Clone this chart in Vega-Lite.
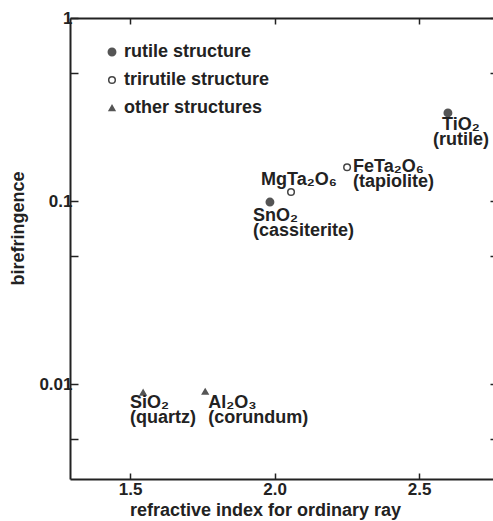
{
  "$schema": "https://vega.github.io/schema/vega-lite/v6.json",
  "width": 423,
  "height": 461,
  "autosize": "none",
  "padding": {"left": 70, "top": 18, "right": 0, "bottom": 42},
  "background": "white",
  "config": {
    "view": {"stroke": null},
    "font": "Liberation Sans",
    "text": {"font": "Liberation Sans", "fontWeight": "bold", "fontSize": 18, "fill": "#222", "lineBreak": "\n", "lineHeight": 15},
    "axis": {
      "grid": false,
      "domainColor": "#222",
      "domainWidth": 2,
      "tickColor": "#222",
      "tickWidth": 1.5,
      "labelFont": "Liberation Sans",
      "labelFontWeight": "bold",
      "labelFontSize": 17,
      "labelColor": "#222",
      "titleFont": "Liberation Sans",
      "titleFontWeight": "bold",
      "titleFontSize": 18,
      "titleColor": "#222"
    },
    "legend": {
      "labelFont": "Liberation Sans",
      "labelFontWeight": "bold",
      "labelFontSize": 18,
      "labelColor": "#222"
    }
  },
  "data": {
    "values": [
      {"id": "TiO2", "label": "TiO₂\n(rutile)", "n": 2.60, "biref": 0.303, "structure": "rutile structure"},
      {"id": "FeTa2O6", "label": "FeTa₂O₆\n(tapiolite)", "n": 2.251, "biref": 0.153, "structure": "trirutile structure"},
      {"id": "MgTa2O6", "label": "MgTa₂O₆", "n": 2.057, "biref": 0.112, "structure": "trirutile structure"},
      {"id": "SnO2", "label": "SnO₂\n(cassiterite)", "n": 1.984, "biref": 0.0987, "structure": "rutile structure"},
      {"id": "SiO2", "label": "SiO₂\n(quartz)", "n": 1.545, "biref": 0.0090, "structure": "other structures"},
      {"id": "Al2O3", "label": "Al₂O₃\n(corundum)", "n": 1.760, "biref": 0.0091, "structure": "other structures"}
    ]
  },
  "resolve": {"axis": {"x": "independent", "y": "independent"}},
  "layer": [
    {
      "mark": {"type": "point", "filled": true, "strokeWidth": 1.5, "opacity": 1},
      "encoding": {
        "x": {
          "field": "n", "type": "quantitative",
          "scale": {"domain": [1.292, 2.756], "zero": false, "nice": false},
          "axis": {
            "orient": "bottom", "values": [1.5, 2.0, 2.5], "format": ".1f",
            "tickSize": -6, "labelPadding": 8,
            "title": "refractive index for ordinary ray",
            "titleX": 195, "titleY": 31, "titleAlign": "center", "titleBaseline": "middle"
          }
        },
        "y": {
          "field": "biref", "type": "quantitative",
          "scale": {"type": "log", "domain": [0.00303, 1], "nice": false},
          "axis": {
            "orient": "left", "values": [0.005, 0.01, 0.05, 0.1, 0.5, 1],
            "labelExpr": "datum.value == 1 ? '1' : datum.value == 0.1 ? '0.1' : datum.value == 0.01 ? '0.01' : ''",
            "tickSize": -8, "labelPadding": 6,
            "title": "birefringence",
            "titleX": -52, "titleY": 210, "titleAngle": 270, "titleAlign": "center", "titleBaseline": "middle"
          }
        },
        "shape": {
          "field": "structure", "type": "nominal",
          "scale": {"domain": ["rutile structure", "trirutile structure", "other structures"], "range": ["circle", "circle", "triangle-up"]},
          "legend": {
            "title": null, "orient": "none", "legendX": 33, "legendY": 25, "padding": 0,
            "rowPadding": 10, "labelOffset": 3
          }
        },
        "fill": {
          "field": "structure", "type": "nominal",
          "scale": {"domain": ["rutile structure", "trirutile structure", "other structures"], "range": ["#555", "white", "#555"]},
          "legend": {
            "title": null, "orient": "none", "legendX": 33, "legendY": 25, "padding": 0,
            "rowPadding": 10, "labelOffset": 3
          }
        },
        "stroke": {
          "field": "structure", "type": "nominal",
          "scale": {"domain": ["rutile structure", "trirutile structure", "other structures"], "range": ["#555", "#444", "#555"]},
          "legend": {
            "title": null, "orient": "none", "legendX": 33, "legendY": 25, "padding": 0,
            "rowPadding": 10, "labelOffset": 3
          }
        },
        "size": {
          "field": "structure", "type": "nominal",
          "scale": {"domain": ["rutile structure", "trirutile structure", "other structures"], "range": [55, 32, 28]},
          "legend": {
            "title": null, "orient": "none", "legendX": 33, "legendY": 25, "padding": 0,
            "rowPadding": 10, "labelOffset": 3
          }
        }
      }
    },
    {
      "mark": {"type": "point", "opacity": 0},
      "encoding": {
        "x": {
          "field": "n", "type": "quantitative",
          "axis": {"orient": "top", "values": [1.5, 2.0, 2.5], "labels": false, "tickSize": -6, "title": null}
        },
        "y": {
          "field": "biref", "type": "quantitative",
          "axis": {"orient": "right", "values": [0.005, 0.01, 0.05, 0.1, 0.5, 1], "labels": false, "domain": false, "tickSize": -3, "title": null}
        }
      }
    },
    {
      "transform": [{"filter": "datum.id == 'TiO2'"}],
      "mark": {"type": "text", "align": "center", "baseline": "top", "dx": 13, "dy": 3},
      "encoding": {
        "x": {"field": "n", "type": "quantitative", "axis": null},
        "y": {"field": "biref", "type": "quantitative", "axis": null},
        "text": {"field": "label"}
      }
    },
    {
      "transform": [{"filter": "datum.id == 'FeTa2O6'"}],
      "mark": {"type": "text", "align": "left", "baseline": "top", "dx": 6, "dy": -9},
      "encoding": {
        "x": {"field": "n", "type": "quantitative", "axis": null},
        "y": {"field": "biref", "type": "quantitative", "axis": null},
        "text": {"field": "label"}
      }
    },
    {
      "transform": [{"filter": "datum.id == 'MgTa2O6'"}],
      "mark": {"type": "text", "align": "left", "baseline": "alphabetic", "dx": -30, "dy": -7},
      "encoding": {
        "x": {"field": "n", "type": "quantitative", "axis": null},
        "y": {"field": "biref", "type": "quantitative", "axis": null},
        "text": {"field": "label"}
      }
    },
    {
      "transform": [{"filter": "datum.id == 'SnO2'"}],
      "mark": {"type": "text", "align": "left", "baseline": "top", "dx": -17, "dy": 5},
      "encoding": {
        "x": {"field": "n", "type": "quantitative", "axis": null},
        "y": {"field": "biref", "type": "quantitative", "axis": null},
        "text": {"field": "label"}
      }
    },
    {
      "transform": [{"filter": "datum.id == 'SiO2'"}],
      "mark": {"type": "text", "align": "left", "baseline": "top", "dx": -13, "dy": 2},
      "encoding": {
        "x": {"field": "n", "type": "quantitative", "axis": null},
        "y": {"field": "biref", "type": "quantitative", "axis": null},
        "text": {"field": "label"}
      }
    },
    {
      "transform": [{"filter": "datum.id == 'Al2O3'"}],
      "mark": {"type": "text", "align": "left", "baseline": "top", "dx": 3, "dy": 2},
      "encoding": {
        "x": {"field": "n", "type": "quantitative", "axis": null},
        "y": {"field": "biref", "type": "quantitative", "axis": null},
        "text": {"field": "label"}
      }
    }
  ]
}
